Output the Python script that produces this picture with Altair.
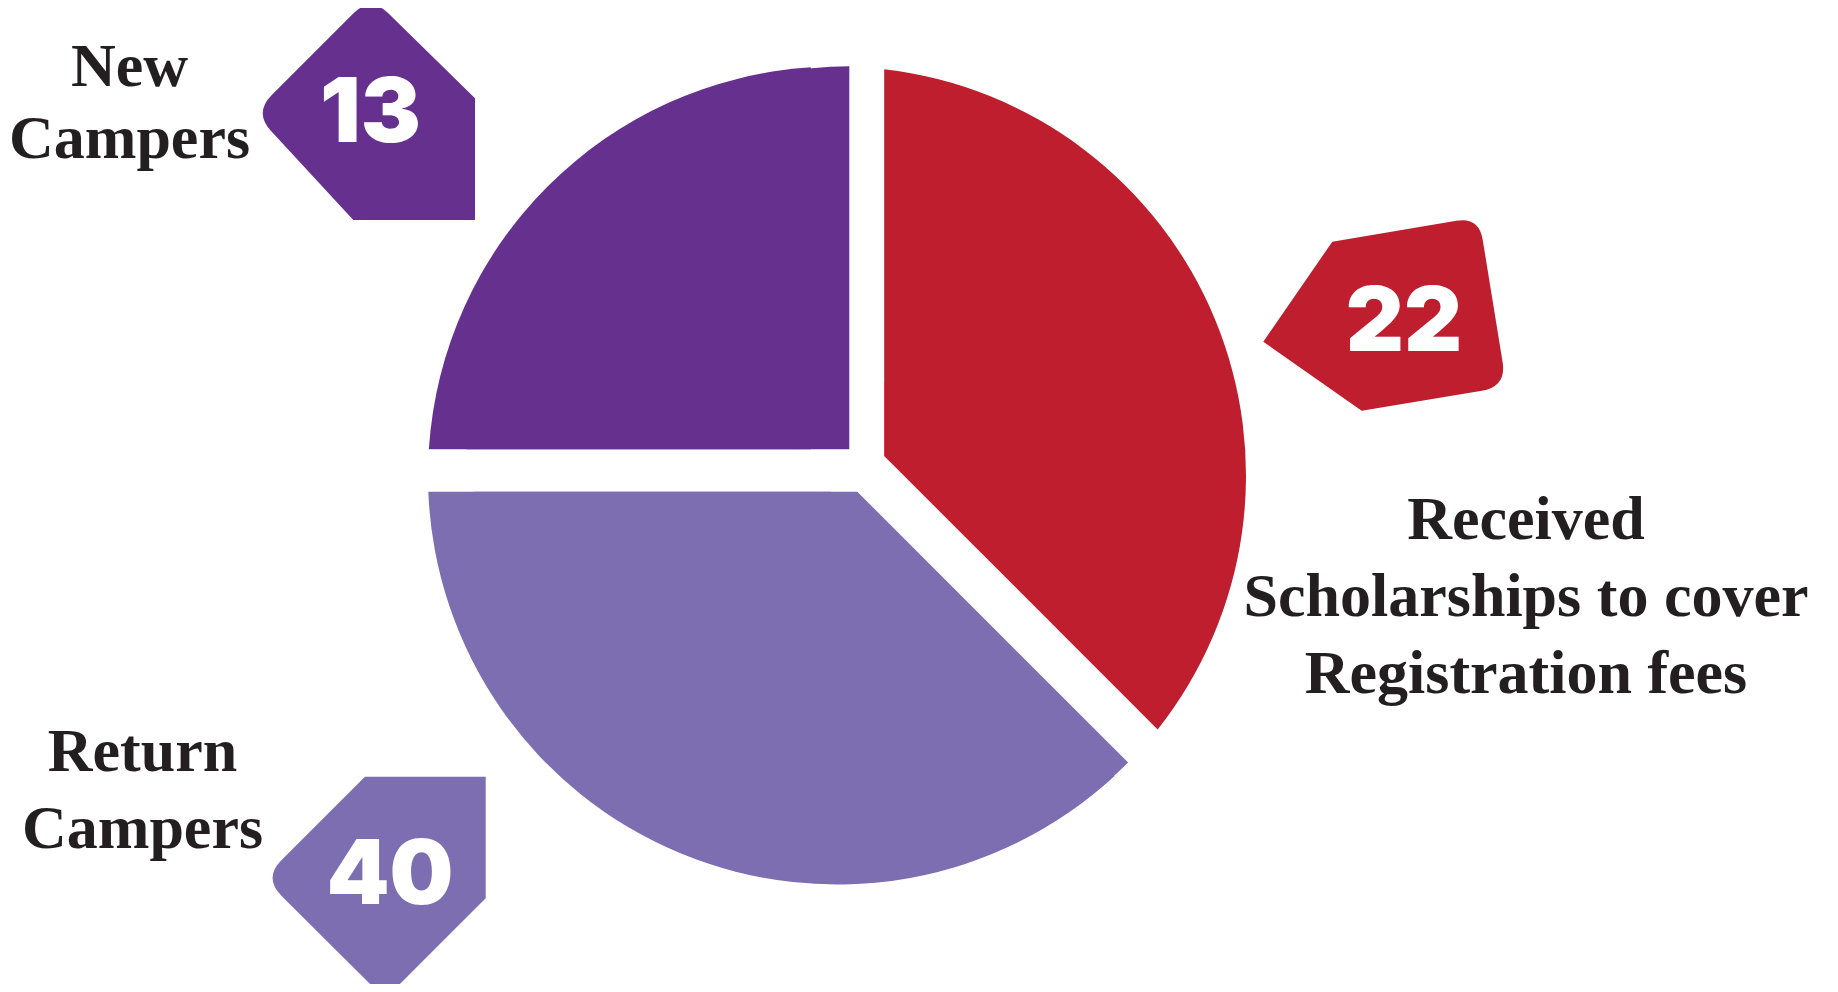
import math
import altair as alt
import pandas as pd

# ---------------- data ----------------
categories = [
    "Received Scholarships to cover Registration fees",
    "Return Campers",
    "New Campers",
]
label_lines = [
    ["Received", "Scholarships to cover", "Registration fees"],
    ["Return", "Campers"],
    ["New", "Campers"],
]
camper_counts = [22, 40, 13]
# share of the circle each slice covers in the picture (percent)
slice_share = [37.5, 37.5, 25.0]
slice_order = [0, 1, 2]
colors = ["#BE1E2E", "#7C6EB0", "#66308F"]

df = pd.DataFrame({
    "category": categories,
    "lines": label_lines,
    "count": camper_counts,
    "share": slice_share,
    "order": slice_order,
})

# ---------------- styling / layout constants ----------------
W, H = 1658, 935                  # plot area; pie sits at its middle
R = 409                           # pie radius
edge_offset = [47.2, 16.2, 26.2]  # distance of each slice's straight edges from the centre
# extra piece drawn from the slice's own corner so its straight edges reach the corner
corner_piece = [None, dict(off=(20.3, 16.2), r=383), dict(off=(12.3, -26.2), r=383)]
TEXT_DARK = "#231F20"

# badge outlines (pixel offsets from badge centre, corner rounding)
badge_geom = [
    dict(S=122, verts=[(-121.7, 27.8, 0), (-52.7, -72.2, 0), (94.0, -96.9, 23),
                       (121.6, 72.8, 25), (-23.3, 96.8, 0)]),
    dict(S=111.5, verts=[(111.0, -111.2, 0), (111.0, 10.4, 0), (10.3, 111.1, 25),
                         (-111.0, -9.9, 25), (-9.7, -111.2, 0)]),
    dict(S=112.5, verts=[(110.4, 112.0, 0), (-11.3, 112.0, 0), (-110.5, 4.6, 25),
                         (6.1, -112.0, 25), (110.4, -9.7, 0)]),
]
badge_offset = [(548, -161.6), (-462.3, 412.4), (-472.4, -367.5)]
number_offset = [(567, -124.5), (-447, 428.5), (-466.5, -333.5)]
label_offset = [(689, 63.5), (-694.5, 295.2), (-707.5, -389.5)]
label_size = [62, 62, 62]
label_line_height = [77, 77.6, 72]


def badge_path(geom):
    S = geom["S"]
    v = geom["verts"]
    n = len(v)
    parts = []
    for i in range(n):
        x, y, k = v[i]
        if k == 0:
            parts.append(("L", [(x, y)]))
        else:
            px, py, _ = v[i - 1]
            nx, ny, _ = v[(i + 1) % n]
            d1 = math.hypot(px - x, py - y)
            d2 = math.hypot(nx - x, ny - y)
            a = (x + k * (px - x) / d1, y + k * (py - y) / d1)
            b = (x + k * (nx - x) / d2, y + k * (ny - y) / d2)
            parts.append(("L", [a]))
            parts.append(("Q", [(x, y), b]))
    out = []
    for j, (cmd, pts) in enumerate(parts):
        c = "M" if j == 0 else cmd
        out.append(c + " ".join(f"{px / S:.4f},{py / S:.4f}" for px, py in pts))
    return "".join(out) + "Z"


base = (
    alt.Chart(df)
    .transform_window(cum="sum(share)", sort=[alt.SortField("order")], frame=[None, 0])
    .transform_calculate(start="datum.cum - datum.share")
)
theta_scale = alt.Scale(domain=[0, 100], range=[0, 2 * math.pi])
theta_enc = dict(theta=alt.Theta("start:Q", scale=theta_scale), theta2=alt.Theta2("cum:Q"))

arcs, badges, numbers, labels = [], [], [], []
for i, cat in enumerate(categories):
    sel = base.transform_filter(alt.datum.category == cat)
    ang = slice_share[i] / 100 * 2 * math.pi
    g = edge_offset[i]
    r0 = 0.999 * g / math.sin(ang / 2)
    rp = math.sqrt(r0 * r0 + R * R)
    pad = 2 * math.asin(g / rp)
    arcs.append(
        sel.mark_arc(outerRadius=R, innerRadius=r0, padAngle=pad, color=colors[i])
        .encode(**theta_enc)
    )
    cp = corner_piece[i]
    if cp is not None:
        arcs.append(
            sel.mark_arc(outerRadius=cp["r"], color=colors[i],
                         xOffset=cp["off"][0], yOffset=cp["off"][1])
            .encode(**theta_enc)
        )
    S = badge_geom[i]["S"]
    badges.append(
        sel.mark_point(
            shape=badge_path(badge_geom[i]), size=(2 * S) ** 2, filled=True,
            color=colors[i], opacity=1, strokeWidth=0,
            xOffset=badge_offset[i][0], yOffset=badge_offset[i][1],
        ).encode(tooltip=alt.Tooltip("count:Q"))
    )
    numbers.append(
        sel.mark_text(
            font="Inter", fontWeight=900, fontSize=90, color="white",
            align="center", baseline="alphabetic",
            dx=number_offset[i][0], dy=number_offset[i][1],
        ).encode(text=alt.Text("count:Q"))
    )
    labels.append(
        sel.mark_text(
            font="Liberation Serif", fontWeight="bold", fontSize=label_size[i],
            lineHeight=label_line_height[i], color=TEXT_DARK,
            align="center", baseline="alphabetic",
            dx=label_offset[i][0], dy=label_offset[i][1],
        ).encode(text=alt.Text("lines:N"))
    )

chart = (
    alt.layer(*arcs, *badges, *numbers, *labels)
    .properties(
        width=W, height=H,
        padding={"left": 0, "top": 0, "right": 164, "bottom": 41},
        autosize=alt.AutoSizeParams(type="none"),
        background="white",
    )
    .configure_view(stroke=None)
)

chart.save("out.html", embed_options={"renderer": "svg", "actions": False})
